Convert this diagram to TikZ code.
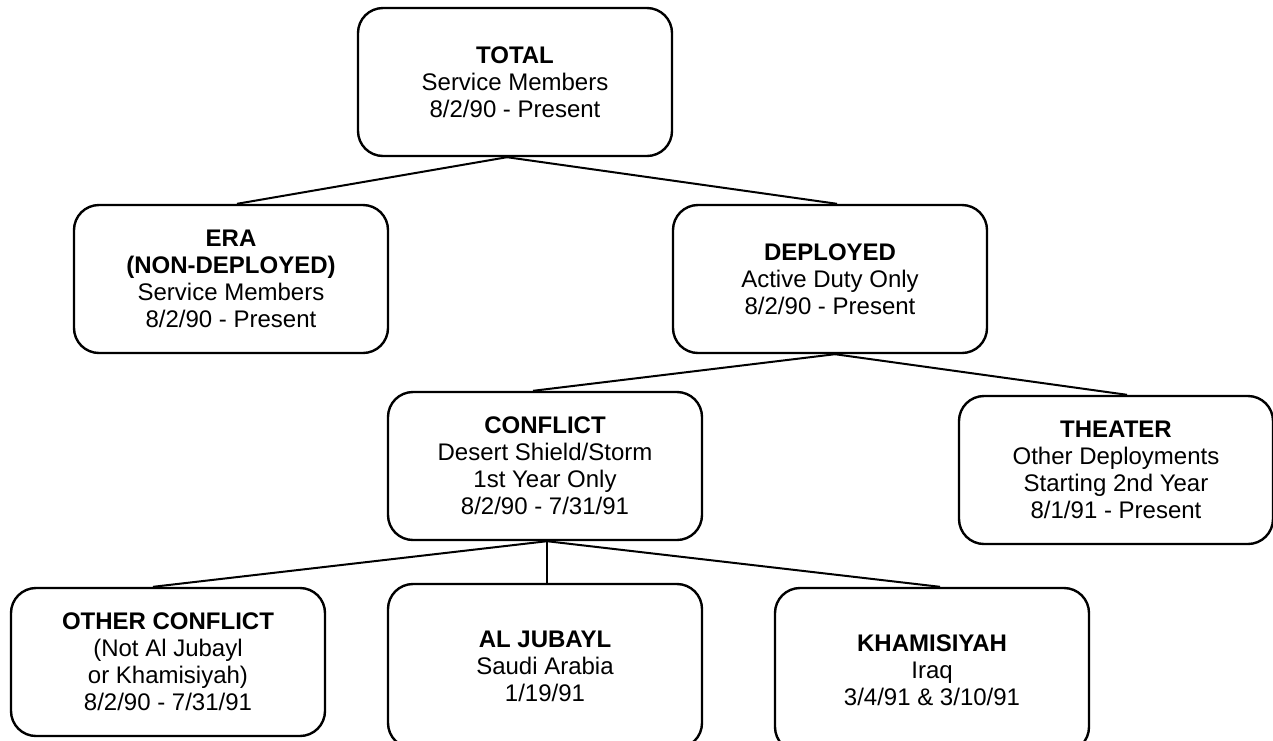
\documentclass[tikz,border=0pt]{standalone}
\usepackage{fontspec}
\setmainfont{Liberation Sans}
\begin{document}
\begin{tikzpicture}[x=1pt,y=-1pt,
  box/.style={draw, line width=2.4pt, rounded corners=25pt, minimum width=314pt,
    minimum height=148pt, align=center, font=\fontsize{24}{27}\selectfont, inner sep=0pt},
  tallbox/.style={box, minimum height=164pt},
  link/.style={line width=2pt}]
\useasboundingbox (0,0) rectangle (1273,740);
\clip (0,0) rectangle (1273,740);
\node[box] (total) at (515,82) {\textbf{TOTAL}\\Service Members\\8/2/90 - Present};
\node[box] (era) at (231,279) {\textbf{ERA}\\\textbf{(NON-DEPLOYED)}\\Service Members\\8/2/90 - Present};
\node[box] (deployed) at (830,279) {\textbf{DEPLOYED}\\Active Duty Only\\8/2/90 - Present};
\node[box] (conflict) at (545,466) {\textbf{CONFLICT}\\Desert Shield/Storm\\1st Year Only\\8/2/90 - 7/31/91};
\node[box] (theater) at (1116,470) {\textbf{THEATER}\\Other Deployments\\Starting 2nd Year\\8/1/91 - Present};
\node[box] (other) at (168,662) {\textbf{OTHER CONFLICT}\\(Not Al Jubayl\\or Khamisiyah)\\8/2/90 - 7/31/91};
\node[tallbox] (jubayl) at (545,666) {\textbf{AL JUBAYL}\\Saudi Arabia\\1/19/91};
\node[tallbox] (khamisiyah) at (932,670) {\textbf{KHAMISIYAH}\\Iraq\\3/4/91 \& 3/10/91};
\draw[link] ([xshift=-8pt]total.south) -- ([xshift=6pt]era.north);
\draw[link] ([xshift=-8pt]total.south) -- ([xshift=7pt]deployed.north);
\draw[link] ([xshift=5pt]deployed.south) -- ([xshift=-12pt]conflict.north);
\draw[link] ([xshift=5pt]deployed.south) -- ([xshift=11pt]theater.north);
\draw[link] ([xshift=2pt]conflict.south) -- ([xshift=-15pt]other.north);
\draw[link] ([xshift=2pt]conflict.south) -- ([xshift=2pt]jubayl.north);
\draw[link] ([xshift=2pt]conflict.south) -- ([xshift=8pt]khamisiyah.north);
\end{tikzpicture}
\end{document}
